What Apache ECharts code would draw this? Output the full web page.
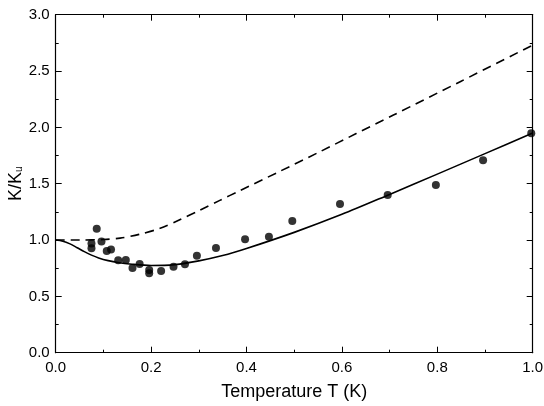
<!DOCTYPE html>
<html><head><meta charset="utf-8">
<script src="https://cdn.jsdelivr.net/npm/echarts@6/dist/echarts.min.js"></script>
<style>html,body{margin:0;padding:0;background:#fff}#c{width:544px;height:406px}</style>
</head><body><div id="c"></div>
<script>
// Measured data points (T in K, K/Ku)
const measT = [0.075,0.075,0.086,0.096,0.107,0.116,0.131,0.147,0.161,0.176,0.196,0.196,0.221,0.247,0.271,0.296,0.336,0.397,0.447,0.496,0.596,0.696,0.797,0.896,0.997];
const measK = [0.97,0.926,1.10,0.988,0.902,0.917,0.82,0.823,0.752,0.787,0.734,0.705,0.725,0.763,0.784,0.861,0.929,1.006,1.029,1.169,1.32,1.399,1.488,1.709,1.947];
// Solid theory curve
const solidT = [0,0.015,0.03,0.045,0.06,0.075,0.09,0.11,0.13,0.16,0.2,0.25,0.3,0.35,0.4,0.5,0.6,0.7,0.8,0.9,1.0];
const solidK = [1.0,0.99,0.966,0.932,0.897,0.866,0.841,0.817,0.8,0.785,0.774,0.782,0.815,0.862,0.925,1.068,1.228,1.405,1.585,1.767,1.95];
// Dashed theory curve
const dashT = [0,0.05,0.1,0.135,0.175,0.219,0.26,0.302,0.343,0.386,0.47,0.554,0.63,0.708,0.85,1.0];
const dashK = [1.0,1.0,1.005,1.017,1.05,1.104,1.18,1.265,1.35,1.438,1.61,1.784,1.945,2.109,2.41,2.73];
const xTicks = [0,0.2,0.4,0.6,0.8,1.0];
const yTicks = [0,0.5,1.0,1.5,2.0,2.5,3.0];

const zip = (a,b)=>a.map((v,i)=>[v,b[i]]);
const font = 'Liberation Sans, Arial, Helvetica, sans-serif';
const axisLine = {show:true, onZero:false, lineStyle:{color:'#000', width:1.2}};
const tick = {show:true, inside:true, length:6, lineStyle:{color:'#000', width:1}};
const minor = {show:true, splitNumber:2, length:3, lineStyle:{color:'#000', width:1}};

const chart = echarts.init(document.getElementById('c'), null, {renderer:'canvas'});
chart.setOption({
  animation:false,
  backgroundColor:'#fff',
  grid:{left:55.7, right:11.3, top:14.7, bottom:53.3, containLabel:false, outerBoundsMode:'none'},
  xAxis:[{
    type:'value', min:0, max:1, interval:0.2, position:'bottom',
    name:'Temperature T (K)', nameLocation:'middle', nameGap:30, nameMoveOverlap:false,
    nameTextStyle:{fontFamily:font, fontSize:18, color:'#000'},
    axisLine:axisLine, axisTick:tick, minorTick:minor, splitLine:{show:false},
    axisLabel:{fontFamily:font, fontSize:15, color:'#000', margin:8, formatter:v=>v.toFixed(1)}
  },{
    type:'value', min:0, max:1, interval:0.2, position:'top',
    axisLine:axisLine, axisTick:tick, minorTick:minor, splitLine:{show:false},
    axisLabel:{show:false}
  }],
  yAxis:[{
    type:'value', min:0, max:3, interval:0.5, position:'left',
    name:'{a|K/K}{b|u}', nameLocation:'middle', nameGap:31, nameRotate:90, nameMoveOverlap:false,
    nameTextStyle:{fontFamily:font, color:'#000', rich:{
      a:{fontFamily:font, fontSize:18, color:'#000'},
      b:{fontFamily:font, fontSize:10, color:'#000', padding:[8,0,0,0]}
    }},
    axisLine:axisLine, axisTick:tick, minorTick:minor, splitLine:{show:false},
    axisLabel:{fontFamily:font, fontSize:15, color:'#000', margin:6, formatter:v=>v.toFixed(1)}
  },{
    type:'value', min:0, max:3, interval:0.5, position:'right',
    axisLine:axisLine, axisTick:tick, minorTick:minor, splitLine:{show:false},
    axisLabel:{show:false}
  }],
  series:[
    {type:'line', data:zip(dashT,dashK), smooth:0.3, symbol:'none',
     lineStyle:{color:'#000', width:1.6, type:[9,6]}},
    {type:'line', data:zip(solidT,solidK), smooth:0.3, symbol:'none',
     lineStyle:{color:'#000', width:1.6}},
    {type:'scatter', data:zip(measT,measK), symbol:'circle', symbolSize:8,
     itemStyle:{color:'#000'}}
  ]
});
</script></body></html>
